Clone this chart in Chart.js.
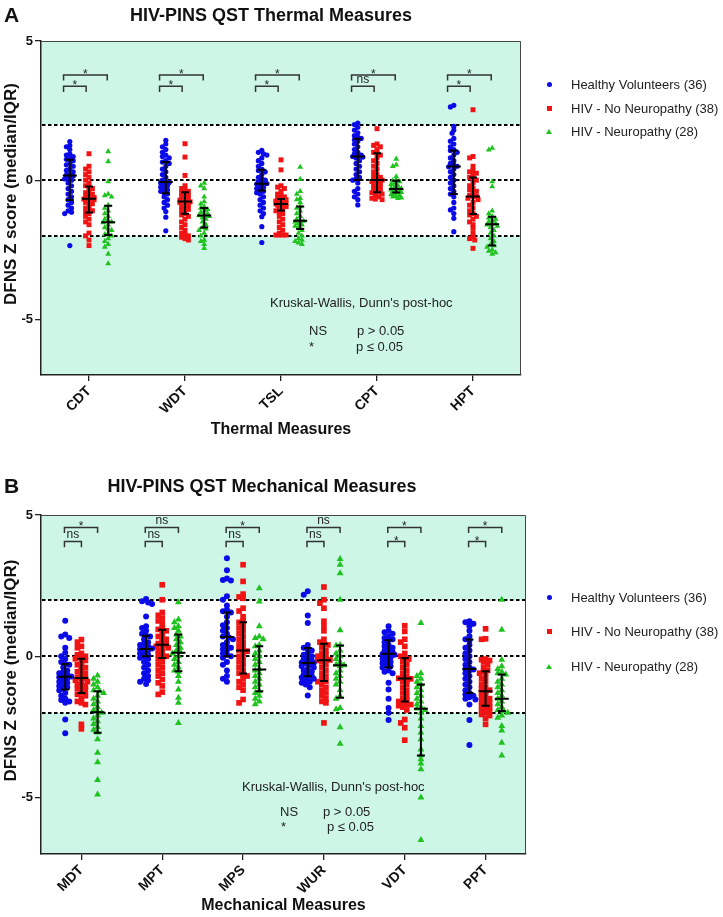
<!DOCTYPE html>
<html lang="en">
  <head>
    <meta charset="UTF-8" />
    <title>HIV-PINS QST</title>
    <style>
      body { margin: 0; background: #fff; }
      .page { position: relative; width: 723px; height: 917px; overflow: hidden; font-family: Arial, "Liberation Sans", sans-serif; }
      .panel { position: absolute; left: 0; }
      #panelA { top: 0; }
      #panelB { top: 445px; }
      .legend { position: absolute; left: 545px; }
      .legend ul { list-style: none; margin: 0; padding: 0; }
      .legend li { display: flex; align-items: center; color: #222; font-size: 13px; white-space: nowrap; }
      .legend .mk { width: 8px; display: flex; justify-content: center; }
      #legendA { top: 73px; }
      #legendA li { height: 23.5px; }
      #legendB { top: 580px; }
      #legendB li { height: 34.5px; }
    </style>
    <script src="https://cdn.jsdelivr.net/npm/chart.js"></script>
  </head>
  <body>
    <div class="page">
      <canvas id="panelA" class="panel" width="723" height="445"></canvas>
      <canvas id="panelB" class="panel" width="723" height="472"></canvas>
      <div id="legendA" class="legend"></div>
      <div id="legendB" class="legend"></div>
    </div>
    <script>
      // ---- data (z scores) ----
      const groupLabels = ["Healthy Volunteers (36)", "HIV - No Neuropathy (38)", "HIV - Neuropathy (28)"];
      const thermalCats = ["CDT", "WDT", "TSL", "CPT", "HPT"];
      const mechCats = ["MDT", "MPT", "MPS", "WUR", "VDT", "PPT"];

      const thermalHV = [
        [1.39, 1.25, 1.2, 1.1, 0.95, 0.9, 0.85, 0.8, 0.75, 0.7, 0.6, 0.55, 0.5, 0.4, 0.35, 0.3, 0.2, 0.18, 0.15, 0.1, 0.05, 0, -0.1, -0.2, -0.3, -0.4, -0.5, -0.6, -0.7, -0.8, -0.9, -1.0, -1.1, -1.15, -1.2, -2.35],
        [1.43, 1.3, 1.2, 1.1, 1.0, 0.9, 0.85, 0.8, 0.7, 0.65, 0.6, 0.5, 0.4, 0.3, 0.2, 0.1, 0.0, -0.05, -0.08, -0.1, -0.15, -0.2, -0.25, -0.3, -0.35, -0.4, -0.45, -0.5, -0.6, -0.7, -0.8, -0.9, -1.0, -1.13, -1.33, -1.82],
        [1.07, 1.0, 0.95, 0.9, 0.8, 0.7, 0.6, 0.5, 0.4, 0.35, 0.3, 0.2, 0.1, 0.05, 0.0, -0.05, -0.1, -0.12, -0.14, -0.2, -0.25, -0.3, -0.35, -0.4, -0.45, -0.5, -0.6, -0.7, -0.8, -0.9, -1.0, -1.1, -1.2, -1.31, -1.67, -2.24],
        [2.05, 2.0, 1.9, 1.8, 1.7, 1.6, 1.55, 1.5, 1.45, 1.4, 1.3, 1.2, 1.1, 1.0, 0.95, 0.9, 0.87, 0.85, 0.83, 0.8, 0.7, 0.6, 0.5, 0.4, 0.3, 0.2, 0.1, 0.05, 0.0, -0.1, -0.3, -0.4, -0.5, -0.6, -0.7, -0.89],
        [2.69, 2.63, 1.93, 1.8, 1.69, 1.5, 1.4, 1.3, 1.2, 1.1, 1.07, 1.0, 0.9, 0.8, 0.7, 0.6, 0.55, 0.5, 0.48, 0.4, 0.3, 0.2, 0.1, 0.0, -0.1, -0.2, -0.3, -0.4, -0.5, -0.6, -0.8, -1.0, -1.07, -1.2, -1.37, -1.85]
      ];
      const thermalNoNeuro = [
        [0.95, 0.5, 0.4, 0.3, 0.2, 0.1, 0.0, -0.1, -0.2, -0.25, -0.3, -0.4, -0.45, -0.5, -0.55, -0.6, -0.62, -0.65, -0.67, -0.68, -0.7, -0.75, -0.8, -0.85, -0.9, -1.0, -1.05, -1.1, -1.15, -1.2, -1.3, -1.4, -1.5, -1.6, -1.9, -2.0, -2.15, -2.35],
        [1.31, 0.83, 0.17, -0.2, -0.3, -0.35, -0.4, -0.45, -0.5, -0.55, -0.6, -0.65, -0.7, -0.72, -0.75, -0.77, -0.78, -0.8, -0.85, -0.9, -0.95, -1.0, -1.05, -1.1, -1.2, -1.25, -1.3, -1.4, -1.5, -1.6, -1.7, -1.8, -1.9, -1.95, -2.0, -2.05, -2.1, -2.15],
        [0.73, 0.37, -0.2, -0.25, -0.3, -0.4, -0.5, -0.55, -0.6, -0.65, -0.68, -0.7, -0.75, -0.8, -0.82, -0.84, -0.85, -0.86, -0.87, -0.9, -0.92, -0.95, -1.0, -1.05, -1.1, -1.15, -1.2, -1.3, -1.4, -1.5, -1.6, -1.7, -1.8, -1.9, -1.97, -1.97, -1.97, -1.97],
        [1.85, 1.3, 1.25, 1.2, 1.1, 1.0, 0.97, 0.9, 0.8, 0.7, 0.6, 0.5, 0.4, 0.3, 0.2, 0.15, 0.1, 0.05, 0.02, 0.0, 0.0, -0.02, -0.05, -0.1, -0.15, -0.2, -0.25, -0.3, -0.35, -0.4, -0.43, -0.45, -0.5, -0.55, -0.6, -0.65, -0.68, -0.7],
        [2.53, 0.85, 0.8, 0.5, 0.35, 0.3, 0.25, 0.2, 0.1, 0.05, 0.0, -0.1, -0.2, -0.3, -0.35, -0.4, -0.5, -0.55, -0.58, -0.6, -0.65, -0.7, -0.8, -0.9, -1.0, -1.1, -1.2, -1.25, -1.3, -1.4, -1.5, -1.6, -1.73, -1.9, -2.03, -2.1, -2.15, -2.45]
      ];
      const thermalNeuro = [
        [1.03, 0.67, -0.05, -0.5, -0.55, -0.6, -0.9, -1.0, -1.1, -1.2, -1.3, -1.4, -1.45, -1.5, -1.52, -1.6, -1.7, -1.75, -1.8, -1.9, -1.95, -2.0, -2.1, -2.2, -2.3, -2.4, -2.65, -3.0],
        [-0.1, -0.2, -0.3, -0.6, -0.77, -0.85, -0.95, -1.0, -1.05, -1.1, -1.15, -1.2, -1.25, -1.27, -1.3, -1.35, -1.4, -1.5, -1.6, -1.7, -1.75, -1.8, -1.9, -2.0, -2.15, -2.2, -2.3, -2.45],
        [0.47, 0.04, -0.4, -0.5, -0.65, -0.7, -0.8, -0.95, -1.0, -1.1, -1.2, -1.3, -1.4, -1.45, -1.47, -1.5, -1.55, -1.6, -1.65, -1.7, -1.8, -1.9, -2.0, -2.1, -2.15, -2.2, -2.25, -2.3],
        [0.76, 0.55, 0.5, 0.13, 0.0, -0.02, -0.05, -0.1, -0.15, -0.2, -0.25, -0.28, -0.3, -0.32, -0.33, -0.35, -0.37, -0.4, -0.42, -0.44, -0.45, -0.5, -0.52, -0.55, -0.58, -0.6, -0.63, -0.65],
        [1.15, 1.09, -0.05, -0.23, -1.1, -1.2, -1.3, -1.35, -1.4, -1.45, -1.5, -1.55, -1.58, -1.6, -1.65, -1.7, -1.8, -1.9, -2.0, -2.1, -2.2, -2.3, -2.35, -2.4, -2.5, -2.55, -2.6, -2.65]
      ];
      // median / quartiles per category: [healthy, no neuropathy, neuropathy]
      const thermalMed = [[0.17, -0.67, -1.51], [-0.07, -0.77, -1.27], [-0.13, -0.86, -1.46], [0.85, 0.01, -0.32], [0.49, -0.59, -1.58]];
      const thermalQ1 = [[-0.71, -1.16, -1.97], [-0.47, -1.21, -1.7], [-0.37, -1.09, -1.75], [0.01, -0.43, -0.44], [-0.5, -1.22, -2.35]];
      const thermalQ3 = [[0.73, -0.23, -0.92], [0.65, -0.43, -1.0], [0.37, -0.68, -0.95], [1.49, 0.97, -0.02], [1.07, 0.1, -1.31]];
      // [HV vs no-neuro, HV vs neuro]
      const thermalSig = [["*", "*"], ["*", "*"], ["*", "*"], ["ns", "*"], ["*", "*"]];

      const mechHV = [
        [1.26, 0.77, 0.7, 0.65, 0.3, 0.12, 0.0, -0.1, -0.2, -0.27, -0.3, -0.4, -0.5, -0.55, -0.6, -0.65, -0.7, -0.72, -0.74, -0.8, -0.85, -0.9, -0.95, -1.0, -1.05, -1.1, -1.15, -1.2, -1.3, -1.4, -1.5, -1.55, -1.6, -1.65, -2.24, -2.73],
        [2.03, 1.95, 1.9, 1.85, 1.41, 1.06, 1.0, 0.9, 0.8, 0.73, 0.7, 0.6, 0.5, 0.45, 0.4, 0.35, 0.3, 0.27, 0.25, 0.2, 0.15, 0.1, 0.05, 0.0, -0.05, -0.1, -0.2, -0.3, -0.4, -0.5, -0.6, -0.7, -0.8, -0.85, -0.9, -0.98],
        [3.47, 3.04, 2.75, 2.7, 2.68, 2.12, 2.0, 1.8, 1.65, 1.59, 1.55, 1.4, 1.2, 1.1, 1.0, 0.9, 0.8, 0.7, 0.66, 0.6, 0.5, 0.4, 0.35, 0.3, 0.25, 0.2, 0.1, 0.05, 0.0, -0.05, -0.2, -0.3, -0.5, -0.7, -0.8, -0.9],
        [2.3, 2.18, 1.44, 1.18, 0.4, 0.3, 0.25, 0.2, 0.1, 0.05, 0.0, -0.05, -0.1, -0.15, -0.2, -0.22, -0.24, -0.26, -0.3, -0.35, -0.4, -0.45, -0.5, -0.55, -0.6, -0.65, -0.7, -0.72, -0.75, -0.8, -0.85, -0.9, -0.94, -1.0, -1.1, -1.39],
        [1.06, 0.9, 0.85, 0.8, 0.7, 0.65, 0.6, 0.57, 0.5, 0.4, 0.35, 0.3, 0.25, 0.2, 0.15, 0.1, 0.08, 0.05, 0.0, -0.05, -0.1, -0.15, -0.2, -0.25, -0.3, -0.35, -0.4, -0.5, -0.55, -0.6, -0.94, -1.18, -1.5, -1.83, -2.0, -2.26],
        [1.24, 1.2, 1.15, 1.06, 0.9, 0.71, 0.6, 0.55, 0.4, 0.3, 0.2, 0.1, 0.0, -0.1, -0.2, -0.3, -0.4, -0.45, -0.47, -0.5, -0.6, -0.7, -0.8, -0.9, -1.0, -1.1, -1.2, -1.3, -1.35, -1.4, -1.45, -1.5, -1.53, -1.71, -2.26, -3.14]
      ];
      const mechNoNeuro = [
        [0.59, 0.5, 0.35, 0.3, 0.1, 0.05, 0.0, -0.05, -0.09, -0.15, -0.2, -0.3, -0.35, -0.4, -0.5, -0.55, -0.6, -0.7, -0.75, -0.78, -0.8, -0.85, -0.9, -0.95, -1.0, -1.05, -1.1, -1.15, -1.2, -1.3, -1.35, -1.4, -1.5, -1.6, -1.65, -1.71, -2.41, -2.57],
        [2.53, 2.0, 1.55, 1.45, 1.35, 1.25, 1.15, 1.0, 0.95, 0.9, 0.8, 0.7, 0.65, 0.6, 0.5, 0.45, 0.42, 0.4, 0.35, 0.3, 0.25, 0.2, 0.1, 0.05, 0.0, -0.05, -0.1, -0.2, -0.3, -0.4, -0.5, -0.6, -0.7, -0.82, -0.94, -1.05, -1.27, -1.35],
        [3.24, 2.65, 2.2, 2.1, 2.05, 1.7, 1.6, 1.4, 1.25, 1.2, 1.1, 1.0, 0.9, 0.8, 0.7, 0.6, 0.5, 0.4, 0.3, 0.22, 0.18, 0.1, 0.0, -0.1, -0.2, -0.3, -0.4, -0.5, -0.6, -0.65, -0.7, -0.8, -0.9, -1.0, -1.1, -1.2, -1.53, -1.65],
        [2.45, 2.0, 1.88, 1.7, 1.24, 1.06, 0.9, 0.6, 0.5, 0.44, 0.4, 0.3, 0.2, 0.1, 0.05, 0.0, -0.05, -0.1, -0.13, -0.15, -0.2, -0.3, -0.4, -0.5, -0.6, -0.7, -0.8, -0.88, -0.9, -1.0, -1.1, -1.2, -1.3, -1.4, -1.5, -1.6, -1.65, -2.36],
        [1.08, 0.88, 0.6, 0.5, 0.35, 0.1, 0.0, -0.06, -0.1, -0.2, -0.3, -0.4, -0.5, -0.6, -0.7, -0.75, -0.78, -0.8, -0.85, -0.9, -1.0, -1.1, -1.2, -1.3, -1.4, -1.5, -1.55, -1.6, -1.65, -1.7, -1.71, -1.75, -1.8, -1.9, -2.24, -2.36, -2.53, -2.97],
        [0.97, 0.62, 0.6, -0.1, -0.12, -0.15, -0.2, -0.3, -0.4, -0.5, -0.55, -0.6, -0.7, -0.8, -0.9, -1.0, -1.1, -1.15, -1.2, -1.25, -1.3, -1.4, -1.45, -1.5, -1.55, -1.6, -1.65, -1.7, -1.75, -1.8, -1.85, -1.9, -1.95, -2.0, -2.06, -2.1, -2.2, -2.41]
      ];
      const mechNeuro = [
        [-0.68, -0.8, -0.9, -1.0, -1.1, -1.2, -1.24, -1.3, -1.4, -1.5, -1.6, -1.7, -1.8, -1.9, -1.95, -2.0, -2.1, -2.2, -2.3, -2.4, -2.5, -2.6, -2.7, -2.94, -3.42, -3.75, -4.38, -4.89],
        [1.91, 1.3, 1.2, 1.06, 1.0, 0.9, 0.77, 0.7, 0.6, 0.5, 0.4, 0.3, 0.2, 0.15, 0.1, 0.0, -0.1, -0.2, -0.3, -0.4, -0.5, -0.55, -0.7, -0.9, -1.18, -1.47, -1.65, -2.36],
        [2.41, 1.94, 1.06, 0.7, 0.65, 0.6, 0.4, 0.35, 0.2, 0.1, 0.0, -0.1, -0.2, -0.3, -0.45, -0.5, -0.6, -0.7, -0.8, -0.9, -1.0, -1.1, -1.24, -1.3, -1.4, -1.5, -1.6, -1.7],
        [3.44, 3.24, 2.94, 2.0, 0.92, 0.4, 0.38, 0.2, 0.1, 0.0, -0.1, -0.2, -0.3, -0.32, -0.35, -0.5, -0.6, -0.7, -0.8, -0.9, -1.0, -1.2, -1.4, -1.5, -1.83, -1.88, -2.51, -3.1],
        [1.18, -0.6, -0.7, -0.8, -0.9, -1.0, -1.1, -1.2, -1.3, -1.4, -1.5, -1.6, -1.7, -1.8, -1.85, -1.9, -2.0, -2.2, -2.47, -2.7, -2.94, -3.3, -3.5, -3.65, -3.8, -4.0, -5.0, -6.5],
        [2.0, 0.94, -0.12, -0.35, -0.45, -0.55, -0.6, -0.65, -0.8, -0.9, -1.0, -1.1, -1.2, -1.3, -1.4, -1.5, -1.6, -1.7, -1.8, -1.9, -1.94, -2.0, -2.1, -2.18, -2.47, -2.63, -3.06, -3.51]
      ];
      const mechMed = [[-0.73, -0.77, -1.98], [0.26, 0.41, 0.12], [0.68, 0.2, -0.47], [-0.24, -0.14, -0.32], [0.09, -0.79, -1.86], [-0.45, -1.24, -1.5]];
      const mechQ1 = [[-1.18, -1.3, -2.71], [0.0, -0.06, -0.53], [0.0, -0.61, -1.24], [-0.71, -0.88, -1.47], [-0.4, -1.6, -3.51], [-1.3, -1.75, -1.94]];
      const mechQ3 = [[-0.27, -0.09, -1.24], [0.73, 0.94, 0.77], [1.55, 1.2, 0.35], [0.29, 0.44, 0.38], [0.57, -0.06, -1.0], [0.59, -0.53, -0.65]];
      const mechSig = [["ns", "*"], ["ns", "ns"], ["ns", "*"], ["ns", "ns"], ["*", "*"], ["*", "*"]];

      const yTicks = [-5, 0, 5];
      const refLines = [2, 0, -2];

      // ---- styling ----
      const FONT = 'Arial, "Liberation Sans", sans-serif';
      const MINT = "#cdf6e7";
      const colors = ["#0b0be8", "#f01414", "#1fc21f"];
      const shapes = ["circle", "rect", "triangle"];
      const offsets = [-0.2, 0, 0.2];

      // narrow beeswarm: spread points sideways a little, overlap when the column gets crowded
      function swarm(values, center, pxX, pxY, gap, maxSpread) {
        const order = values.map((v, i) => i).sort((a, b) => values[b] - values[a]);
        const placed = [];
        const steps = Math.floor(maxSpread / (gap * 0.5));
        return order.map((i) => {
          const py = values[i] * pxY;
          let best = 0, bestD = -1;
          for (let k = 0; k <= steps * 2; k++) {
            const cand = k === 0 ? 0 : (k % 2 ? -1 : 1) * Math.ceil(k / 2) * gap * 0.5;
            const d = placed.reduce((m, p) => Math.min(m, Math.hypot(p.x - cand, p.y - py)), Infinity);
            if (d >= gap) { best = cand; bestD = d; break; }
            if (d > bestD) { best = cand; bestD = d; }
          }
          placed.push({ x: best, y: py });
          return { x: center + best / pxX, y: values[i] };
        });
      }

      const qstPlugin = {
        id: "qst",
        beforeDraw(chart) {
          const { ctx, chartArea: a, scales: { y } } = chart;
          ctx.save();
          ctx.fillStyle = MINT;
          ctx.fillRect(a.left, a.top, a.width, a.height);
          const t = y.getPixelForValue(2), b = y.getPixelForValue(-2);
          ctx.fillStyle = "#fff";
          ctx.fillRect(a.left, t, a.width, b - t);
          ctx.restore();
        },
        beforeDatasetsDraw(chart) {
          const { ctx, chartArea: a, scales: { y } } = chart;
          ctx.save();
          // thin frame top / right
          ctx.strokeStyle = "#444";
          ctx.lineWidth = 1;
          ctx.beginPath();
          ctx.moveTo(a.left, a.top + 0.5);
          ctx.lineTo(a.right - 0.5, a.top + 0.5);
          ctx.lineTo(a.right - 0.5, a.bottom);
          ctx.stroke();
          // dashed reference lines
          ctx.strokeStyle = "#000";
          ctx.lineWidth = 2;
          ctx.setLineDash([3.5, 2.5]);
          refLines.forEach((v) => {
            const py = Math.round(y.getPixelForValue(v));
            ctx.beginPath();
            ctx.moveTo(a.left + 1, py);
            ctx.lineTo(a.right - 1, py);
            ctx.stroke();
          });
          ctx.restore();
        },
        afterDatasetsDraw(chart, args, o) {
          const { ctx, scales: { x, y } } = chart;
          ctx.save();
          // median + IQR bars
          ctx.strokeStyle = "#000";
          ctx.lineWidth = 2;
          o.med.forEach((row, i) => {
            row.forEach((m, g) => {
              const px = x.getPixelForValue(i + offsets[g]);
              const p1 = y.getPixelForValue(o.q1[i][g]);
              const p3 = y.getPixelForValue(o.q3[i][g]);
              const pm = y.getPixelForValue(m);
              ctx.beginPath();
              ctx.moveTo(px, p1); ctx.lineTo(px, p3);
              ctx.moveTo(px - 4, p1); ctx.lineTo(px + 4, p1);
              ctx.moveTo(px - 4, p3); ctx.lineTo(px + 4, p3);
              ctx.moveTo(px - 7, pm); ctx.lineTo(px + 7, pm);
              ctx.stroke();
            });
          });
          // significance brackets
          const br = o.bracket;
          ctx.strokeStyle = "#333";
          ctx.lineWidth = 1.5;
          ctx.fillStyle = "#222";
          ctx.textAlign = "center";
          ctx.textBaseline = "alphabetic";
          ctx.font = "12px " + FONT;
          o.sig.forEach((pair, i) => {
            [[br.xShort, br.yShort, pair[0]], [br.xLong, br.yLong, pair[1]]].forEach(([xe, yv, lab]) => {
              const x0 = x.getPixelForValue(i + br.x0), x1 = x.getPixelForValue(i + xe);
              const py = y.getPixelForValue(yv), pd = y.getPixelForValue(yv - br.drop);
              ctx.beginPath();
              ctx.moveTo(x0, pd); ctx.lineTo(x0, py); ctx.lineTo(x1, py); ctx.lineTo(x1, pd);
              ctx.stroke();
              ctx.fillText(lab, (x0 + x1) / 2, lab === "*" ? py + 3 : py - 3.5);
            });
          });
          ctx.restore();
        },
        afterDraw(chart, args, o) {
          const { ctx, chartArea: a } = chart;
          ctx.save();
          ctx.fillStyle = "#111";
          ctx.textBaseline = "middle";
          ctx.textAlign = "left";
          ctx.font = "bold 21px " + FONT;
          ctx.fillText(o.letter, 4, o.titleY);
          ctx.textAlign = "center";
          ctx.font = "bold 18px " + FONT;
          ctx.fillText(o.title, o.titleX, o.titleY);
          // y axis title, sits a bit above the middle of the plot as in the figure
          ctx.save();
          ctx.translate(11, (a.top + a.bottom) / 2 - 14);
          ctx.rotate(-Math.PI / 2);
          ctx.font = "bold 17px " + FONT;
          ctx.fillText(o.yTitle, 0, 0);
          ctx.restore();
          ctx.textAlign = "left";
          ctx.fillStyle = "#222";
          ctx.font = "13px " + FONT;
          o.notes.forEach((n) => ctx.fillText(n[0], n[1], n[2]));
          ctx.restore();
        }
      };

      const htmlLegendPlugin = {
        id: "htmlLegend",
        afterUpdate(chart, args, options) {
          const box = document.getElementById(options.containerID);
          box.innerHTML = "";
          const ul = document.createElement("ul");
          chart.data.datasets.forEach((ds) => {
            const li = document.createElement("li");
            const mk = document.createElement("span");
            mk.className = "mk";
            const dot = document.createElement("span");
            dot.style.display = "inline-block";
            if (ds.pointStyle === "triangle") {
              dot.style.width = "0";
              dot.style.height = "0";
              dot.style.borderLeft = "3px solid transparent";
              dot.style.borderRight = "3px solid transparent";
              dot.style.borderBottom = "5px solid " + ds.backgroundColor;
            } else {
              dot.style.width = "5px";
              dot.style.height = "5px";
              dot.style.background = ds.backgroundColor;
              if (ds.pointStyle === "circle") dot.style.borderRadius = "50%";
            }
            mk.appendChild(dot);
            const txt = document.createElement("span");
            txt.style.marginLeft = "18px";
            txt.textContent = ds.label;
            li.appendChild(mk);
            li.appendChild(txt);
            ul.appendChild(li);
          });
          box.appendChild(ul);
        }
      };

      function makePanel(id, p) {
        const pxX = (723 - p.padRight - 41) / p.cats.length;
        const pxY = (p.height - p.xHeight - p.padTop) / 12;
        const datasets = p.series.map((vals, g) => ({
          label: groupLabels[g],
          data: p.cats.flatMap((c, i) => swarm(vals[i], i + offsets[g], pxX, pxY, p.gap, p.spread)),
          pointStyle: shapes[g],
          pointRadius: p.radius[g],
          backgroundColor: colors[g],
          borderColor: colors[g],
          pointBorderWidth: 0,
          showLine: false
        }));
        const axisFont = { family: FONT, weight: "bold" };
        return new Chart(document.getElementById(id), {
          type: "scatter",
          data: { datasets },
          options: {
            responsive: false,
            animation: false,
            events: [],
            layout: { padding: { top: p.padTop, right: p.padRight, left: 0, bottom: 0 } },
            plugins: {
              legend: { display: false },
              tooltip: { enabled: false },
              htmlLegend: { containerID: p.legend },
              qst: {
                med: p.med, q1: p.q1, q3: p.q3, sig: p.sig, bracket: p.bracket,
                letter: p.letter, title: p.title, titleX: p.titleX, titleY: p.titleY,
                yTitle: "DFNS Z score (median/IQR)", notes: p.notes
              }
            },
            scales: {
              x: {
                type: "linear",
                min: -0.5,
                max: p.cats.length - 0.5,
                afterBuildTicks: (s) => { s.ticks = p.cats.map((c, i) => ({ value: i })); },
                afterFit: (s) => { s.height = p.xHeight; },
                ticks: {
                  autoSkip: false, minRotation: 45, maxRotation: 45, padding: 2, color: "#111",
                  font: { ...axisFont, size: 14 },
                  callback: (v) => p.cats[v]
                },
                grid: { drawOnChartArea: false, drawTicks: true, tickLength: 6, color: "#222", lineWidth: 1.3 },
                border: { color: "#222", width: 1.5 },
                title: { display: true, text: p.xTitle, color: "#111", font: { ...axisFont, size: 16 }, padding: { top: 0, bottom: p.xTitlePad } }
              },
              y: {
                min: -7,
                max: 5,
                afterBuildTicks: (s) => { s.ticks = yTicks.map((value) => ({ value })); },
                afterFit: (s) => { s.width = 41; },
                ticks: { padding: 2, color: "#111", font: { ...axisFont, size: 13 } },
                grid: { drawOnChartArea: false, drawTicks: true, tickLength: 6, color: "#222", lineWidth: 1.3 },
                border: { color: "#222", width: 1.5 },
                title: { display: false }
              }
            }
          },
          plugins: [qstPlugin, htmlLegendPlugin]
        });
      }

      makePanel("panelA", {
        cats: thermalCats,
        series: [thermalHV, thermalNoNeuro, thermalNeuro],
        med: thermalMed, q1: thermalQ1, q3: thermalQ3, sig: thermalSig,
        bracket: { x0: -0.265, xShort: -0.03, xLong: 0.19, yShort: 3.37, yLong: 3.78, drop: 0.2 },
        height: 445, padTop: 41, padRight: 202, xHeight: 70, xTitlePad: 6,
        radius: [2.6, 3.5, 3.4], gap: 3.4, spread: 6,
        letter: "A", title: "HIV-PINS QST Thermal Measures", titleX: 271, titleY: 16,
        xTitle: "Thermal Measures", legend: "legendA",
        notes: [["Kruskal-Wallis, Dunn's post-hoc", 270, 303], ["NS", 309, 331], ["p > 0.05", 357, 331], ["*", 309, 347], ["p \u2264 0.05", 356, 347]]
      });

      makePanel("panelB", {
        cats: mechCats,
        series: [mechHV, mechNoNeuro, mechNeuro],
        med: mechMed, q1: mechQ1, q3: mechQ3, sig: mechSig,
        bracket: { x0: -0.21, xShort: 0.0, xLong: 0.2, yShort: 4.06, yLong: 4.56, drop: 0.2 },
        height: 472, padTop: 70, padRight: 197, xHeight: 63, xTitlePad: 2,
        radius: [3, 4, 4], gap: 4, spread: 6.5,
        letter: "B", title: "HIV-PINS QST Mechanical Measures", titleX: 262, titleY: 42,
        xTitle: "Mechanical Measures", legend: "legendB",
        notes: [["Kruskal-Wallis, Dunn's post-hoc", 242, 342], ["NS", 280, 367], ["p > 0.05", 323, 367], ["*", 281, 382], ["p \u2264 0.05", 327, 382]]
      });
    </script>
  </body>
</html>
